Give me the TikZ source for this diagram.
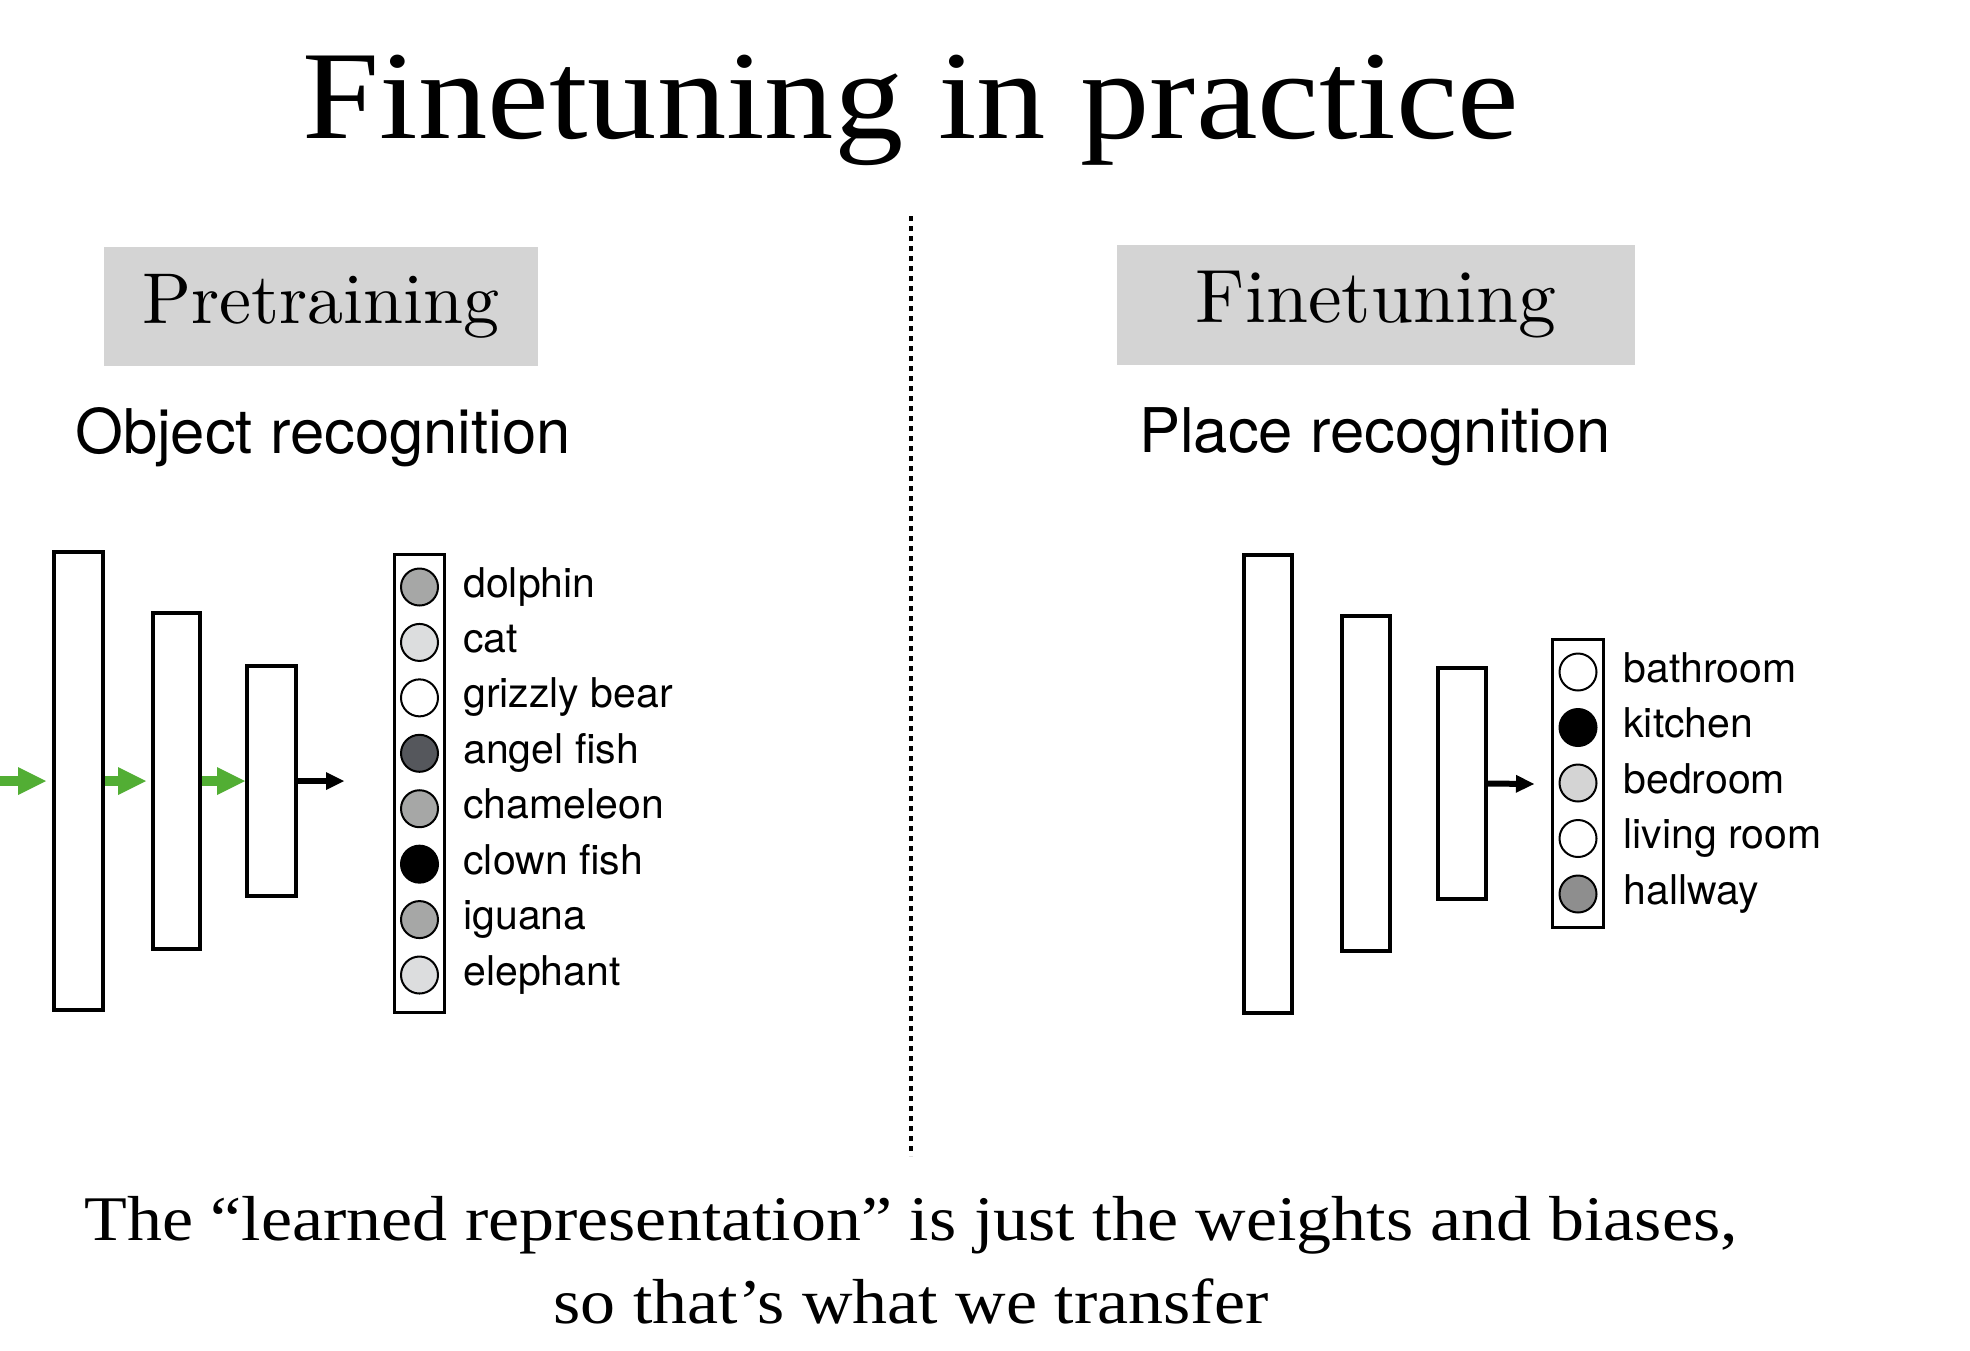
\documentclass[tikz,border=0pt]{standalone}
\usepackage{fontspec}
\usetikzlibrary{arrows.meta}
\newfontfamily\helv{TeX Gyre Heros}
\newfontfamily\pal{Liberation Serif}[FakeStretch=1.1]
\newfontfamily\cmten{lmroman10-regular.otf}
\definecolor{gA}{HTML}{A6A7A6}
\definecolor{gB}{HTML}{DCDDDE}
\definecolor{gC}{HTML}{55575C}
\definecolor{gD}{HTML}{D4D4D4}
\definecolor{gE}{HTML}{8E8E8E}
\definecolor{hdr}{HTML}{D4D4D4}
\definecolor{grn}{HTML}{52AE34}
\begin{document}
\begin{tikzpicture}[x=0.5pt,y=-0.5pt,
  layer/.style={draw, line width=2pt, rectangle, inner sep=0pt},
  outbox/.style={draw, line width=1.5pt, rectangle, inner sep=0pt},
  unit/.style={circle, draw, line width=1pt, inner sep=0pt, minimum size=18.5pt},
  lab/.style={anchor=base west, inner sep=0pt, font=\helv\fontsize{20.5}{24}\selectfont},
  hdrbox/.style={fill=hdr, inner sep=0pt},
  task/.style={anchor=base, inner sep=0pt, font=\helv\fontsize{30.8}{36}\selectfont},
  garrow/.style={draw=grn, line width=5pt, -{Triangle[length=14pt,width=14pt,line width=0pt]}},
  barrow/.style={draw=black, line width=3pt, -{Triangle[length=9pt,width=9pt,line width=0pt]}},
  sep/.style={line width=2pt, dash pattern=on 2.5pt off 2.5pt},
  bottxt/.style={anchor=base, inner sep=0pt, font=\pal\fontsize{31.8}{36}\selectfont}
]
\fill[white] (0,0) rectangle (1970,1350);
\useasboundingbox (0,0) rectangle (1970,1350);

% title
\node[anchor=base, inner sep=0pt, font=\pal\fontsize{63}{70}\selectfont] (title) at (911,138) {Finetuning in practice};

% headers
\node[hdrbox, minimum width=217pt, minimum height=59.5pt, font=\cmten\fontsize{36}{40}\selectfont] (prebox) at (321,306.5) {Pretraining};
\node[hdrbox, minimum width=259pt, minimum height=60pt, font=\cmten\fontsize{37.8}{42}\selectfont] (finebox) at (1376,305) {Finetuning};
\node[task] (objrec) at (323,453) {Object recognition};
\node[task] (placerec) at (1375,452) {Place recognition};

% separator
\coordinate (septop) at (911,216);
\coordinate (sepbot) at (911,1156);
\draw[sep] (septop) -- (sepbot);

% left network
\node[layer, minimum width=24.5pt, minimum height=229pt] (L1) at (78.5,781) {};
\node[layer, minimum width=23.5pt, minimum height=168pt] (L2) at (176.5,781) {};
\node[layer, minimum width=24.5pt, minimum height=115pt] (L3) at (271.5,781) {};
\coordinate (inL) at (0,781);
\coordinate (endL) at (344,781);
\draw[garrow, shorten >=3pt] (inL) -- (L1.west);
\draw[garrow, shorten >=2.5pt] (L1.east) -- (L2.west);
\draw[garrow] (L2.east) -- (L3.west);
\draw[barrow] (L3.east) -- (endL);

\node[outbox, minimum width=25pt, minimum height=229pt] (outL) at (419.5,783.5) {};
\foreach \col/\txt [count=\i] in {gA/dolphin, gB/cat, white/grizzly bear, gC/angel fish, gA/chameleon, black/clown fish, gA/iguana, gB/elephant}{
  \node[unit, fill=\col] (lc\i) at (419.5,{587+55.43*(\i-1)}) {};
  \node[lab] (ll\i) at (463,{597+55.43*(\i-1)}) {\txt};
}

% right network
\node[layer, minimum width=24pt, minimum height=229pt] (R1) at (1268,784) {};
\node[layer, minimum width=24pt, minimum height=167.5pt] (R2) at (1365.5,783.5) {};
\node[layer, minimum width=24pt, minimum height=115.5pt] (R3) at (1461.5,783.5) {};
\coordinate (endR) at (1534,784);
\draw[barrow] (R3.east) -- (endR);

\node[outbox, minimum width=25.5pt, minimum height=144pt] (outR) at (1578,783.5) {};
\foreach \col/\txt [count=\i] in {white/bathroom, black/kitchen, gD/bedroom, white/living room, gE/hallway}{
  \node[unit, fill=\col] (rc\i) at (1578,{672+55.5*(\i-1)}) {};
  \node[lab] (rl\i) at (1623,{682+55.5*(\i-1)}) {\txt};
}

% bottom text
\node[bottxt] (bot1) at (911,1240) {The “learned representation” is just the weights and biases,};
\node[bottxt] (bot2) at (911,1323) {so that’s what we transfer};
\end{tikzpicture}
\end{document}
